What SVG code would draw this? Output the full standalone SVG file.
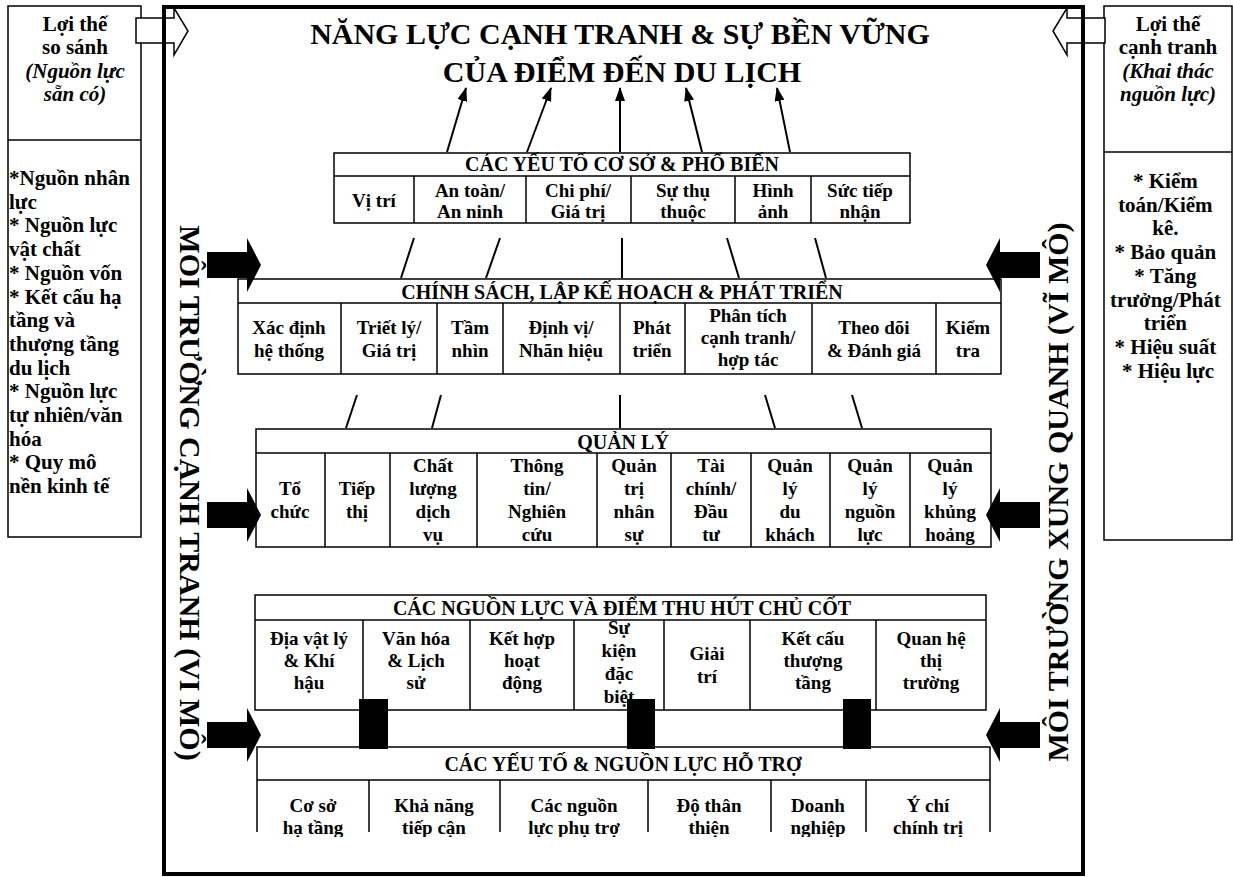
<svg xmlns="http://www.w3.org/2000/svg" width="1233" height="877" viewBox="0 0 1233 877">
<style>
text { font-family: "Liberation Serif", "Times New Roman", serif; font-weight: bold; fill: #000; }
.t { font-size: 30px; text-anchor: middle; }
.h { font-size: 20px; text-anchor: middle; }
.c { font-size: 19px; text-anchor: middle; }
.p { font-size: 21px; }
.pc { font-size: 21px; text-anchor: middle; }
.i { font-style: italic; }
.v { font-size: 30px; text-anchor: middle; }
.box { fill: #fff; stroke: #000; stroke-width: 1.5; }
.ln { stroke: #000; stroke-width: 1.5; fill: none; }
.con { stroke: #000; stroke-width: 2; fill: none; }
.blk { fill: #000; stroke: none; }
.hol { fill: #fff; stroke: #000; stroke-width: 1.5; }
</style>
<defs>
<marker id="ah" viewBox="0 0 14 10" refX="13" refY="5" markerWidth="14" markerHeight="10" markerUnits="userSpaceOnUse" orient="auto">
<path d="M0,0 L14,5 L0,10 z" fill="#000"/>
</marker>
<clipPath id="clip5"><rect x="250" y="740" width="750" height="97"/></clipPath>
</defs>
<rect width="1233" height="877" fill="#fff"/>

<!-- side panels -->
<g id="panel-left">
<rect x="8" y="6" width="133" height="531" class="box"/>
<line x1="8" y1="140" x2="141" y2="140" class="ln" stroke-width="2"/>
<text class="pc" x="75" y="31">Lợi thế</text>
<text class="pc" x="75" y="54">so sánh</text>
<text class="pc i" x="75" y="78">(Nguồn lực</text>
<text class="pc i" x="75" y="101">sẵn có)</text>
<text class="p" x="9">
<tspan x="9" y="185">*Nguồn nhân</tspan>
<tspan x="9" y="208.7">lực</tspan>
<tspan x="9" y="232.4">* Nguồn lực</tspan>
<tspan x="9" y="256.1">vật chất</tspan>
<tspan x="9" y="279.8">* Nguồn vốn</tspan>
<tspan x="9" y="303.5">* Kết cấu hạ</tspan>
<tspan x="9" y="327.2">tầng và</tspan>
<tspan x="9" y="350.9">thượng tầng</tspan>
<tspan x="9" y="374.6">du lịch</tspan>
<tspan x="9" y="398.3">* Nguồn lực</tspan>
<tspan x="9" y="422">tự nhiên/văn</tspan>
<tspan x="9" y="445.7">hóa</tspan>
<tspan x="9" y="469.4">* Quy mô</tspan>
<tspan x="9" y="493.1">nền kinh tế</tspan>
</text>
</g>

<g id="panel-right">
<rect x="1104" y="6" width="128" height="534" class="box"/>
<line x1="1104" y1="152" x2="1232" y2="152" class="ln" stroke-width="2"/>
<text class="pc" x="1168" y="31">Lợi thế</text>
<text class="pc" x="1168" y="54">cạnh tranh</text>
<text class="pc i" x="1168" y="78">(Khai thác</text>
<text class="pc i" x="1168" y="101">nguồn lực)</text>
<text class="pc">
<tspan x="1168" y="188">* Kiểm</tspan>
<tspan x="1168" y="211.7">toán/Kiểm</tspan>
<tspan x="1168" y="235.4">kê.</tspan>
<tspan x="1168" y="259.1">* Bảo quản</tspan>
<tspan x="1168" y="282.8">* Tăng</tspan>
<tspan x="1168" y="306.5">trưởng/Phát</tspan>
<tspan x="1168" y="330.2">triển</tspan>
<tspan x="1168" y="353.9">* Hiệu suất</tspan>
<tspan x="1168" y="377.6">* Hiệu lực</tspan>
</text>
</g>

<!-- hollow arrows -->
<g id="hollow-arrows">
<path class="hol" d="M136,18 H174 V8 L188,31 L174,55 V43 H136 Z"/>
<path class="hol" d="M1105,18 H1067 V8 L1053,31 L1067,55 V43 H1105 Z"/>
</g>

<!-- main frame -->
<g id="frame">
<rect x="164" y="7" width="919" height="867" fill="none" stroke="#000" stroke-width="4"/>
</g>

<g id="title">
<text class="t" x="620" y="44">NĂNG LỰC CẠNH TRANH &amp; SỰ BỀN VỮNG</text>
<text class="t" x="622" y="82">CỦA ĐIỂM ĐẾN DU LỊCH</text>
</g>

<g id="env-left">
<text class="v" transform="translate(180,493) rotate(90)">MÔI TRƯỜNG CẠNH TRANH (VI MÔ)</text>
</g>
<g id="env-right">
<text class="v" transform="translate(1068,492) rotate(-90)">MÔI TRƯỜNG XUNG QUANH (VĨ MÔ)</text>
</g>

<!-- Box 1 -->
<g id="box-co-so">
<rect x="334" y="153" width="576" height="70" class="box"/>
<line x1="334" y1="176" x2="910" y2="176" class="ln"/>
<path class="ln" d="M414,176 V223 M526,176 V223 M631,176 V223 M735,176 V223 M811,176 V223"/>
<text class="h" x="622" y="171">CÁC YẾU TỐ CƠ SỞ &amp; PHỔ BIẾN</text>
<text class="c" x="374" y="207">Vị trí</text>
<text class="c"><tspan x="470" y="197">An toàn/</tspan><tspan x="470" y="218">An ninh</tspan></text>
<text class="c"><tspan x="578" y="197">Chi phí/</tspan><tspan x="578" y="218">Giá trị</tspan></text>
<text class="c"><tspan x="683" y="197">Sự thụ</tspan><tspan x="683" y="218">thuộc</tspan></text>
<text class="c"><tspan x="773" y="197">Hình</tspan><tspan x="773" y="218">ảnh</tspan></text>
<text class="c"><tspan x="860" y="197">Sức tiếp</tspan><tspan x="860" y="218">nhận</tspan></text>
</g>

<!-- Box 2 -->
<g id="box-chinh-sach">
<rect x="238" y="279" width="763" height="95" class="box"/>
<line x1="238" y1="303" x2="1001" y2="303" class="ln"/>
<path class="ln" d="M341,303 V374 M437,303 V374 M503,303 V374 M620,303 V374 M685,303 V374 M812,303 V374 M936,303 V374"/>
<text class="h" x="622" y="299">CHÍNH SÁCH, LẬP KẾ HOẠCH &amp; PHÁT TRIỂN</text>
<text class="c"><tspan x="289" y="334">Xác định</tspan><tspan x="289" y="357">hệ thống</tspan></text>
<text class="c"><tspan x="389" y="334">Triết lý/</tspan><tspan x="389" y="357">Giá trị</tspan></text>
<text class="c"><tspan x="470" y="334">Tầm</tspan><tspan x="470" y="357">nhìn</tspan></text>
<text class="c"><tspan x="561" y="334">Định vị/</tspan><tspan x="561" y="357">Nhãn hiệu</tspan></text>
<text class="c"><tspan x="652" y="334">Phát</tspan><tspan x="652" y="357">triển</tspan></text>
<text class="c"><tspan x="748" y="322">Phân tích</tspan><tspan x="748" y="344">cạnh tranh/</tspan><tspan x="748" y="366">hợp tác</tspan></text>
<text class="c"><tspan x="874" y="334">Theo dõi</tspan><tspan x="874" y="357">&amp; Đánh giá</tspan></text>
<text class="c"><tspan x="968" y="334">Kiểm</tspan><tspan x="968" y="357">tra</tspan></text>
</g>

<!-- Box 3 -->
<g id="box-quan-ly">
<rect x="256" y="429" width="735" height="118" class="box"/>
<line x1="256" y1="453" x2="991" y2="453" class="ln"/>
<path class="ln" d="M325,453 V547 M390,453 V547 M477,453 V547 M597,453 V547 M671,453 V547 M751,453 V547 M830,453 V547 M910,453 V547"/>
<text class="h" x="623" y="449">QUẢN LÝ</text>
<text class="c"><tspan x="290" y="495">Tổ</tspan><tspan x="290" y="518">chức</tspan></text>
<text class="c"><tspan x="357" y="495">Tiếp</tspan><tspan x="357" y="518">thị</tspan></text>
<text class="c"><tspan x="433" y="472">Chất</tspan><tspan x="433" y="495">lượng</tspan><tspan x="433" y="518">dịch</tspan><tspan x="433" y="541">vụ</tspan></text>
<text class="c"><tspan x="537" y="472">Thông</tspan><tspan x="537" y="495">tin/</tspan><tspan x="537" y="518">Nghiên</tspan><tspan x="537" y="541">cứu</tspan></text>
<text class="c"><tspan x="634" y="472">Quản</tspan><tspan x="634" y="495">trị</tspan><tspan x="634" y="518">nhân</tspan><tspan x="634" y="541">sự</tspan></text>
<text class="c"><tspan x="711" y="472">Tài</tspan><tspan x="711" y="495">chính/</tspan><tspan x="711" y="518">Đầu</tspan><tspan x="711" y="541">tư</tspan></text>
<text class="c"><tspan x="790" y="472">Quản</tspan><tspan x="790" y="495">lý</tspan><tspan x="790" y="518">du</tspan><tspan x="790" y="541">khách</tspan></text>
<text class="c"><tspan x="870" y="472">Quản</tspan><tspan x="870" y="495">lý</tspan><tspan x="870" y="518">nguồn</tspan><tspan x="870" y="541">lực</tspan></text>
<text class="c"><tspan x="950" y="472">Quản</tspan><tspan x="950" y="495">lý</tspan><tspan x="950" y="518">khủng</tspan><tspan x="950" y="541">hoảng</tspan></text>
</g>

<!-- Box 4 -->
<g id="box-nguon-luc">
<rect x="255" y="595" width="731" height="115" class="box"/>
<line x1="255" y1="620" x2="986" y2="620" class="ln"/>
<path class="ln" d="M363,620 V710 M470,620 V710 M574,620 V710 M664,620 V710 M750,620 V710 M876,620 V710"/>
<text class="h" x="622" y="615">CÁC NGUỒN LỰC VÀ ĐIỂM THU HÚT CHỦ CỐT</text>
<text class="c"><tspan x="309" y="645">Địa vật lý</tspan><tspan x="309" y="667">&amp; Khí</tspan><tspan x="309" y="689">hậu</tspan></text>
<text class="c"><tspan x="416" y="645">Văn hóa</tspan><tspan x="416" y="667">&amp; Lịch</tspan><tspan x="416" y="689">sử</tspan></text>
<text class="c"><tspan x="522" y="645">Kết hợp</tspan><tspan x="522" y="667">hoạt</tspan><tspan x="522" y="689">động</tspan></text>
<text class="c"><tspan x="619" y="634">Sự</tspan><tspan x="619" y="657">kiện</tspan><tspan x="619" y="680">đặc</tspan><tspan x="619" y="703">biệt</tspan></text>
<text class="c"><tspan x="707" y="660">Giải</tspan><tspan x="707" y="683">trí</tspan></text>
<text class="c"><tspan x="813" y="645">Kết cấu</tspan><tspan x="813" y="667">thượng</tspan><tspan x="813" y="689">tầng</tspan></text>
<text class="c"><tspan x="931" y="645">Quan hệ</tspan><tspan x="931" y="667">thị</tspan><tspan x="931" y="689">trường</tspan></text>
</g>

<!-- Box 5 -->
<g id="box-ho-tro">
<rect x="257" y="747" width="733" height="85" fill="#fff" stroke="none"/>
<path class="ln" d="M257,832 V747 H990 V832 M257,780 H990"/>
<path class="ln" d="M369,780 V832 M500,780 V832 M648,780 V832 M771,780 V832 M866,780 V832"/>
<text class="h" x="623" y="771">CÁC YẾU TỐ &amp; NGUỒN LỰC HỖ TRỢ</text>
<g clip-path="url(#clip5)">
<text class="c"><tspan x="313" y="812">Cơ sở</tspan><tspan x="313" y="834">hạ tầng</tspan></text>
<text class="c"><tspan x="434" y="812">Khả năng</tspan><tspan x="434" y="834">tiếp cận</tspan></text>
<text class="c"><tspan x="574" y="812">Các nguồn</tspan><tspan x="574" y="834">lực phụ trợ</tspan></text>
<text class="c"><tspan x="709" y="812">Độ thân</tspan><tspan x="709" y="834">thiện</tspan></text>
<text class="c"><tspan x="818" y="812">Doanh</tspan><tspan x="818" y="834">nghiệp</tspan></text>
<text class="c"><tspan x="928" y="812">Ý chí</tspan><tspan x="928" y="834">chính trị</tspan></text>
</g>
</g>

<!-- connectors -->
<g id="connectors">
<line class="con" x1="447" y1="152" x2="466" y2="88" marker-end="url(#ah)"/>
<line class="con" x1="527" y1="152" x2="551" y2="88" marker-end="url(#ah)"/>
<line class="con" x1="620" y1="152" x2="620" y2="88" marker-end="url(#ah)"/>
<line class="con" x1="702" y1="152" x2="686" y2="88" marker-end="url(#ah)"/>
<line class="con" x1="790" y1="152" x2="777" y2="88" marker-end="url(#ah)"/>

<line class="con" x1="414" y1="238" x2="401" y2="278"/>
<line class="con" x1="500" y1="238" x2="486" y2="278"/>
<line class="con" x1="622" y1="238" x2="622" y2="278"/>
<line class="con" x1="727" y1="238" x2="739" y2="278"/>
<line class="con" x1="815" y1="238" x2="826" y2="278"/>

<line class="con" x1="357" y1="395" x2="346" y2="428"/>
<line class="con" x1="441" y1="395" x2="432" y2="428"/>
<line class="con" x1="620" y1="395" x2="620" y2="428"/>
<line class="con" x1="765" y1="395" x2="775" y2="428"/>
<line class="con" x1="852" y1="395" x2="862" y2="428"/>

<rect class="blk" x="359" y="699" width="29" height="50"/>
<rect class="blk" x="627" y="699" width="28" height="50"/>
<rect class="blk" x="843" y="699" width="28" height="50"/>

<path class="blk" d="M207,252 H247 V238 L261,265 L247,292 V278 H207 Z"/>
<path class="blk" d="M207,502 H247 V488 L261,515 L247,542 V528 H207 Z"/>
<path class="blk" d="M207,722 H247 V708 L261,735 L247,762 V748 H207 Z"/>
<path class="blk" d="M1040,252 H1000 V238 L986,265 L1000,292 V278 H1040 Z"/>
<path class="blk" d="M1040,502 H1000 V488 L986,515 L1000,542 V528 H1040 Z"/>
<path class="blk" d="M1040,722 H1000 V708 L986,735 L1000,762 V748 H1040 Z"/>
</g>
</svg>
